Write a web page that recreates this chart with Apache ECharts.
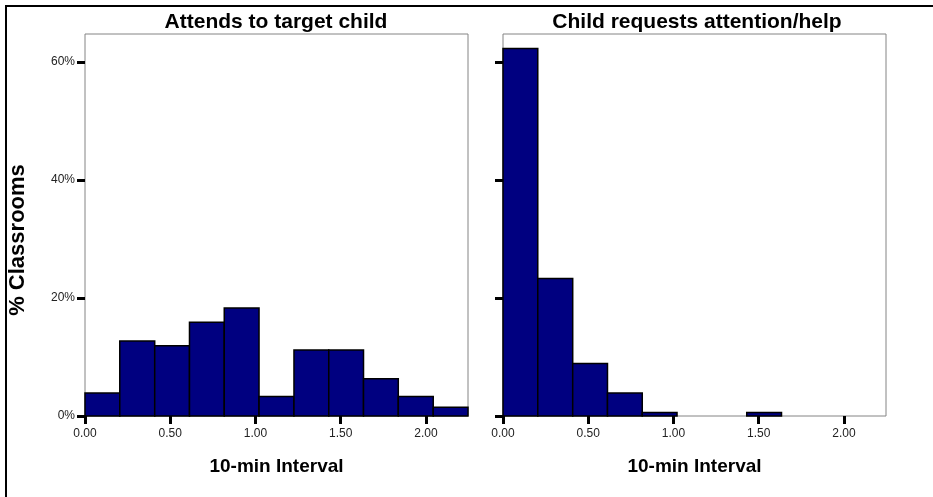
<!DOCTYPE html>
<html>
<head>
<meta charset="utf-8">
<script src="https://cdn.jsdelivr.net/npm/echarts@6/dist/echarts.min.js"></script>
<style>
  html, body { margin: 0; padding: 0; background: #fff; }
  #chart { width: 933px; height: 497px; }
</style>
</head>
<body>
<div id="chart"></div>
<script>
// histogram bins (10-min interval), shared by both panels
const binEdges = [0, 0.204, 0.409, 0.613, 0.817, 1.021, 1.226, 1.430, 1.634, 1.838, 2.043, 2.247]
const attendsPct = [3.9, 12.7, 11.9, 15.9, 18.3, 3.3, 11.2, 11.2, 6.3, 3.3, 1.5]
const requestsPct = [62.3, 23.3, 8.9, 3.9, 0.6, 0, 0, 0.6, 0, 0, 0]
const xTicks = [0, 0.5, 1, 1.5, 2]
const yTicks = [0, 20, 40, 60]
const panelTitles = ['Attends to target child', 'Child requests attention/help']

const font = '"Liberation Sans", Arial, sans-serif'
const chart = echarts.init(document.getElementById('chart'), null, { renderer: 'canvas' })

const toBins = (values) => values.map((v, i) => [binEdges[i], binEdges[i + 1], v])

function renderBar(params, api) {
  if (!api.value(2)) return null
  const topLeft = api.coord([api.value(0), api.value(2)])
  const bottomRight = api.coord([api.value(1), 0])
  return {
    type: 'rect',
    shape: { x: topLeft[0], y: topLeft[1], width: bottomRight[0] - topLeft[0], height: bottomRight[1] - topLeft[1] },
    style: { fill: '#000080', stroke: '#000', lineWidth: 1.5 },
  }
}

const xAxis = (gridIndex) => ({
  type: 'value', gridIndex, min: 0, max: binEdges[binEdges.length - 1],
  name: '10-min Interval', nameLocation: 'middle', nameGap: 41,
  nameTextStyle: { fontFamily: font, fontSize: 19, fontWeight: 'bold', color: '#000' },
  axisLine: { show: false }, splitLine: { show: false },
  axisTick: { show: true, customValues: xTicks, length: 8, lineStyle: { color: '#000', width: 3 } },
  axisLabel: { customValues: xTicks, margin: 12, fontFamily: font, fontSize: 12, color: '#222', formatter: (v) => v.toFixed(2) },
})

const yAxis = (gridIndex, labels) => ({
  type: 'value', gridIndex, min: 0, max: 64.75,
  name: labels ? '% Classrooms' : '', nameLocation: 'middle', nameRotate: 90, nameGap: 56,
  // pushed a little below the axis middle, as in the original
  nameTextStyle: { fontFamily: font, fontSize: 22, fontWeight: 'bold', color: '#000', padding: [0, 30, 0, 0] },
  axisLine: { show: false }, splitLine: { show: false },
  axisTick: { show: true, customValues: yTicks, length: 8, lineStyle: { color: '#000', width: 3 } },
  axisLabel: { show: labels, customValues: yTicks, margin: 10, fontFamily: font, fontSize: 12, color: '#222', formatter: '{value}%' },
})

chart.setOption({
  animation: false,
  backgroundColor: '#fff',
  title: panelTitles.map((text, i) => ({
    text, left: i === 0 ? 271 : 692, top: 7, textAlign: 'center',
    textStyle: { fontFamily: font, fontSize: 21, fontWeight: 'bold', color: '#000' },
  })),
  grid: [
    { left: 85, top: 34, width: 383, height: 382, show: true, borderColor: '#848484', borderWidth: 1, backgroundColor: 'transparent' },
    { left: 503, top: 34, width: 383, height: 382, show: true, borderColor: '#848484', borderWidth: 1, backgroundColor: 'transparent' },
  ],
  xAxis: [xAxis(0), xAxis(1)],
  yAxis: [yAxis(0, true), yAxis(1, false)],
  graphic: [{
    type: 'rect', silent: true, z: 100,
    shape: { x: 6, y: 6, width: 1000, height: 1000 },
    style: { fill: 'none', stroke: '#000', lineWidth: 2 },
  }],
  series: [
    { type: 'custom', xAxisIndex: 0, yAxisIndex: 0, renderItem: renderBar, encode: { x: [0, 1], y: 2 }, data: toBins(attendsPct) },
    { type: 'custom', xAxisIndex: 1, yAxisIndex: 1, renderItem: renderBar, encode: { x: [0, 1], y: 2 }, data: toBins(requestsPct) },
  ],
})
</script>
</body>
</html>
